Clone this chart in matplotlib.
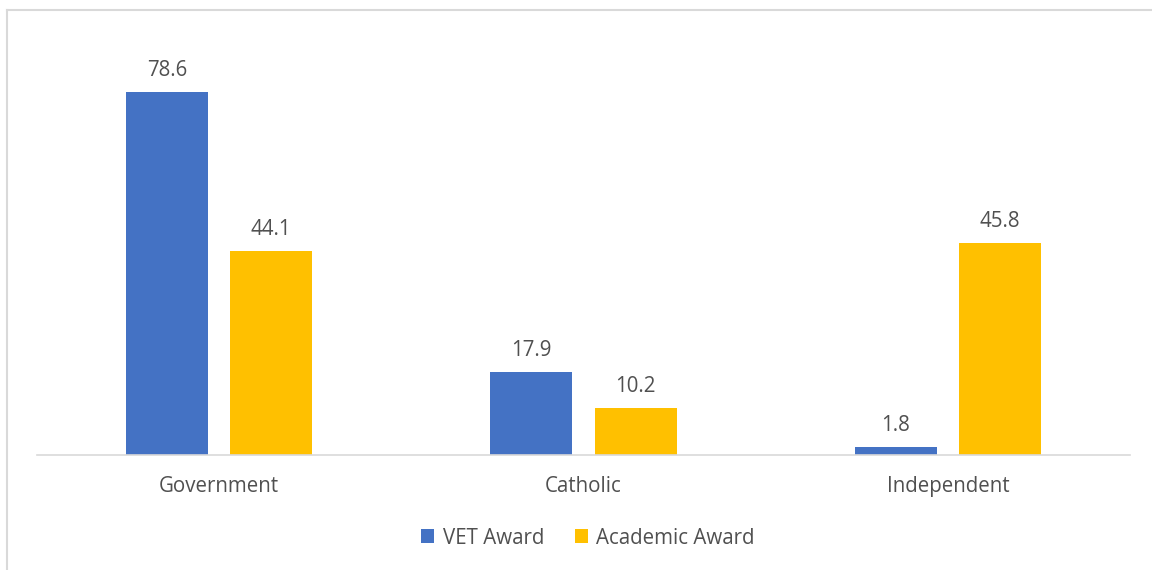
import matplotlib
matplotlib.use("Agg")
import matplotlib.pyplot as plt
import numpy as np
from matplotlib.lines import Line2D

# data
categories = ["Government", "Catholic", "Independent"]
vet_award = [78.6, 17.9, 1.8]
academic_award = [44.1, 10.2, 45.8]

blue = "#4472C4"
gold = "#FFC000"
txt = "#505050"

plt.rcParams['font.family'] = ['Open Sans', 'DejaVu Sans']
fs = 14.8

fig = plt.figure(figsize=(11.52, 5.70), dpi=100)
ax = fig.add_axes([37/1152, 1 - 455/570, 1093/1152, 416/570])

x = np.arange(len(categories))
w = 0.225
off = 0.143
b1 = ax.bar(x - off, vet_award, w, color=blue, label="VET Award")
b2 = ax.bar(x + off, academic_award, w, color=gold, label="Academic Award")
ax.bar_label(b1, labels=[f"{v:.1f}" for v in vet_award], padding=8, fontsize=fs, color=txt)
ax.bar_label(b2, labels=[f"{v:.1f}" for v in academic_award], padding=8, fontsize=fs, color=txt)

ax.set_xlim(-0.5, 2.5)
ax.set_ylim(0, 90)
ax.set_xticks(x)
ax.set_xticklabels(categories, fontsize=fs, color=txt)
ax.tick_params(axis='x', length=0, pad=15)
ax.set_yticks([])
for s in ['top', 'right', 'left']:
    ax.spines[s].set_visible(False)
ax.spines['bottom'].set_color("#d9d9d9")
ax.spines['bottom'].set_linewidth(1.2)

leg = fig.legend(handles=[b1, b2], loc='center', bbox_to_anchor=(588/1152, 1 - 538/570),
                 ncol=2, frameon=False, fontsize=fs, handlelength=0.65, handleheight=0.65,
                 handletextpad=0.4, columnspacing=1.5)
for t in leg.get_texts():
    t.set_color(txt)

# chart frame (only left and top edges are visible in the crop)
fig.add_artist(Line2D([7/1152, 7/1152], [0, 1 - 10/570], transform=fig.transFigure, color="#d9d9d9", lw=1.5))
fig.add_artist(Line2D([7/1152, 1], [1 - 10/570, 1 - 10/570], transform=fig.transFigure, color="#d9d9d9", lw=1.5))

fig.savefig("out.png", dpi=100)
